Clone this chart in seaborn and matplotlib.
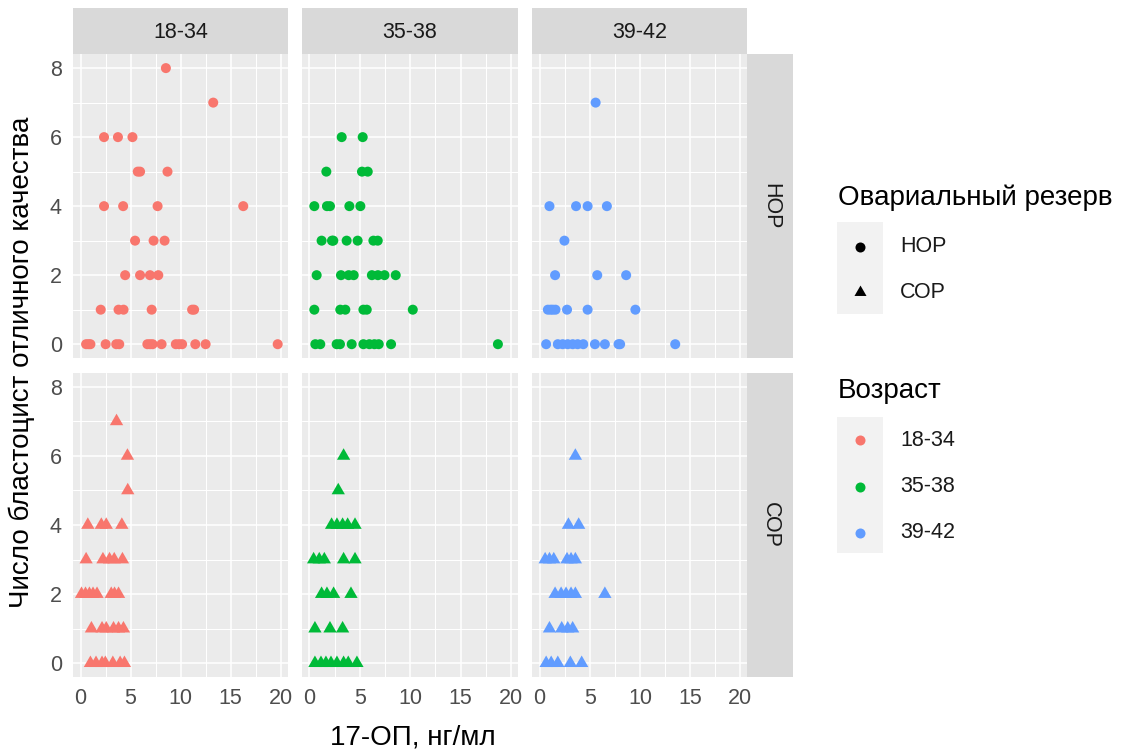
import matplotlib
matplotlib.use("Agg")
import matplotlib.pyplot as plt
from matplotlib.path import Path
from matplotlib.patches import Rectangle
import pandas as pd
import seaborn as sns

# ---------------- data ----------------
ages = ["18-34", "35-38", "39-42"]
reserves = ["НОР", "СОР"]
age_colors = ["#F8766D", "#00BA38", "#619CFF"]
x_ticks = [0, 5, 10, 15, 20]
y_ticks = [0, 2, 4, 6, 8]

# НОР, 18-34
nor_1834_x = [8.53, 13.26, 2.35, 3.74, 5.19, 5.72, 5.95, 8.69, 2.35, 4.26, 7.70, 16.26,
              5.45, 7.3, 8.4, 4.46, 5.95, 6.94, 7.77, 2.02, 3.8, 4.3, 7.11, 11.15, 11.35,
              0.56, 0.8, 0.99, 2.51, 3.57, 3.87, 6.68, 6.95, 7.2, 8.1, 9.52, 9.85, 10.15,
              11.47, 12.5, 19.7]
nor_1834_y = [8, 7, 6, 6, 6, 5, 5, 5, 4, 4, 4, 4,
              3, 3, 3, 2, 2, 2, 2, 1, 1, 1, 1, 1, 1,
              0, 0, 0, 0, 0, 0, 0, 0, 0, 0, 0, 0, 0,
              0, 0, 0]
# НОР, 35-38
nor_3538_x = [3.21, 5.29, 1.69, 5.22, 5.79, 0.5, 1.75, 2.05, 3.97, 5.06,
              1.22, 2.25, 2.38, 3.70, 4.79, 6.35, 6.78,
              0.73, 3.14, 3.9, 4.4, 6.2, 6.8, 7.45, 8.56,
              0.5, 3.07, 3.57, 5.36, 5.69, 10.25,
              0.6, 1.09, 2.71, 3.04, 4.2, 5.36, 5.95, 6.45, 6.88, 8.1, 18.68]
nor_3538_y = [6, 6, 5, 5, 5, 4, 4, 4, 4, 4,
              3, 3, 3, 3, 3, 3, 3,
              2, 2, 2, 2, 2, 2, 2, 2,
              1, 1, 1, 1, 1, 1,
              0, 0, 0, 0, 0, 0, 0, 0, 0, 0, 0]
# НОР, 39-42
nor_3942_x = [5.59, 0.99, 3.64, 4.79, 6.71, 2.48, 1.55, 5.75, 8.63,
              0.83, 1.1, 1.32, 1.59, 2.74, 4.79, 9.55,
              0.66, 1.82, 2.31, 2.81, 3.31, 3.8, 4.36, 5.52, 6.51, 7.87, 8.03, 13.52]
nor_3942_y = [7, 4, 4, 4, 4, 3, 2, 2, 2,
              1, 1, 1, 1, 1, 1, 1,
              0, 0, 0, 0, 0, 0, 0, 0, 0, 0, 0, 0]
# СОР, 18-34
sor_1834_x = [3.6, 4.69, 4.72, 0.73, 2.08, 2.57, 4.13,
              0.56, 2.24, 2.9, 3.37, 4.19,
              0.1, 0.5, 0.89, 1.25, 1.65, 3.07, 3.4, 3.8,
              1.09, 2.15, 2.57, 3.3, 3.8, 4.29,
              0.99, 1.55, 2.15, 2.48, 3.23, 3.96, 4.39]
sor_1834_y = [7, 6, 5, 4, 4, 4, 4,
              3, 3, 3, 3, 3,
              2, 2, 2, 2, 2, 2, 2, 2,
              1, 1, 1, 1, 1, 1,
              0, 0, 0, 0, 0, 0, 0]
# СОР, 35-38
sor_3538_x = [3.4, 2.87, 2.21, 2.74, 3.3, 3.8, 4.53,
              0.43, 0.99, 1.49, 3.4, 4.53,
              1.22, 1.75, 2.41, 4.13,
              0.56, 2.05, 3.3,
              0.56, 1.16, 1.65, 2.15, 2.74, 3.4, 3.86, 4.72]
sor_3538_y = [6, 5, 4, 4, 4, 4, 4,
              3, 3, 3, 3, 3,
              2, 2, 2, 2,
              1, 1, 1,
              0, 0, 0, 0, 0, 0, 0, 0]
# СОР, 39-42
sor_3942_x = [3.57, 2.88, 3.9, 0.56, 0.99, 1.42, 2.74, 3.14, 3.57,
              1.55, 2.15, 2.64, 3.14, 3.57, 6.51,
              0.99, 2.21, 2.81, 3.3,
              0.66, 1.16, 1.82, 3.07, 4.2]
sor_3942_y = [6, 4, 4, 3, 3, 3, 3, 3, 3,
              2, 2, 2, 2, 2, 2,
              1, 1, 1, 1,
              0, 0, 0, 0, 0]

panels = {
    ("НОР", "18-34"): (nor_1834_x, nor_1834_y),
    ("НОР", "35-38"): (nor_3538_x, nor_3538_y),
    ("НОР", "39-42"): (nor_3942_x, nor_3942_y),
    ("СОР", "18-34"): (sor_1834_x, sor_1834_y),
    ("СОР", "35-38"): (sor_3538_x, sor_3538_y),
    ("СОР", "39-42"): (sor_3942_x, sor_3942_y),
}
frames = []
for (res, age), (xs, ys) in panels.items():
    frames.append(pd.DataFrame({"ОП": xs, "Бласт": ys, "Резерв": res, "Возраст": age}))
df = pd.concat(frames, ignore_index=True)

# ---------------- style ----------------
sns.set_theme(style="white")
plt.rcParams["font.family"] = ["Liberation Sans", "DejaVu Sans"]

W, H = 1134, 751
fig = plt.figure(figsize=(W / 100, H / 100), dpi=100)


def fbox(x0, y0, x1, y1):
    return [x0 / W, 1 - y1 / H, (x1 - x0) / W, (y1 - y0) / H]


col_x = [(73, 287.7), (301.7, 518.3), (532, 747.3)]
row_y = [(54.3, 358), (373, 677)]
strip_top = 8
strip_right = 793.3

tri = Path([(0, 1), (0.866, -0.5), (-0.866, -0.5), (0, 1)],
           [Path.MOVETO, Path.LINETO, Path.LINETO, Path.CLOSEPOLY])
marker_map = {"НОР": "o", "СОР": tri}
size_map = {"НОР": 52, "СОР": 122}
pal = dict(zip(ages, age_colors))

TICK_FS = 15.5
TITLE_FS = 20

for r, res in enumerate(reserves):
    for c, age in enumerate(ages):
        x0, x1 = col_x[c]
        y0, y1 = row_y[r]
        ax = fig.add_axes(fbox(x0, y0, x1, y1))
        sub = df[(df["Резерв"] == res) & (df["Возраст"] == age)]
        ax.set_facecolor("#EBEBEB")
        ax.set_axisbelow(True)
        sns.scatterplot(data=sub, x="ОП", y="Бласт", hue="Возраст", style="Резерв",
                        palette=pal, markers=marker_map, s=size_map[res],
                        linewidth=0, legend=False, ax=ax)
        ax.set_xlim(-0.75, 20.7)
        ax.set_ylim(-0.4, 8.4)
        ax.set_xticks(x_ticks)
        ax.set_yticks(y_ticks)
        ax.set_xticks([2.5, 7.5, 12.5, 17.5], minor=True)
        ax.set_yticks([1, 3, 5, 7], minor=True)
        ax.grid(which="major", color="white", linewidth=1.15)
        ax.grid(which="minor", color="white", linewidth=0.75)
        for sp in ax.spines.values():
            sp.set_visible(False)
        ax.set_xlabel("")
        ax.set_ylabel("")
        ax.tick_params(which="minor", length=0)
        ax.tick_params(which="major", length=5, width=0.8, color="#333333",
                       labelcolor="#4D4D4D", labelsize=TICK_FS, pad=3)
        if r == 0:
            ax.tick_params(axis="x", which="major", length=0, labelbottom=False)
        if c != 0:
            ax.tick_params(axis="y", which="major", length=0, labelleft=False)
        # top strips
        if r == 0:
            sax = fig.add_axes(fbox(x0, strip_top, x1, y0))
            sax.set_facecolor("#D9D9D9")
            sax.set_xticks([]); sax.set_yticks([])
            for sp in sax.spines.values():
                sp.set_visible(False)
            sax.text(0.5, 0.47, age, ha="center", va="center", fontsize=TICK_FS,
                     color="#1A1A1A", transform=sax.transAxes)
        # right strips
        if c == 2:
            sax = fig.add_axes(fbox(x1, y0, strip_right, y1))
            sax.set_facecolor("#D9D9D9")
            sax.set_xticks([]); sax.set_yticks([])
            for sp in sax.spines.values():
                sp.set_visible(False)
            sax.text(0.5, 0.5, res, ha="center", va="center", fontsize=TICK_FS,
                     color="#1A1A1A", rotation=-90, transform=sax.transAxes)

# axis titles
fig.text(413 / W, 1 - 738 / H, "17-ОП, нг/мл", ha="center", va="center",
         fontsize=TITLE_FS, color="black")
fig.text(22 / W, 1 - 362 / H, "Число бластоцист отличного качества", ha="center",
         va="center", rotation=90, fontsize=TITLE_FS, color="black")

# ---------------- legend (overlay in pixel coords) ----------------
lax = fig.add_axes([0, 0, 1, 1])
lax.set_xlim(0, W)
lax.set_ylim(H, 0)
lax.axis("off")

lax.text(838, 205, "Овариальный резерв", ha="left", va="baseline",
         fontsize=TITLE_FS, color="black")
lax.add_patch(Rectangle((837, 222), 46, 92, facecolor="#F2F2F2", edgecolor="none"))
lax.scatter([860], [247], s=52, marker="o", color="black", linewidth=0)
lax.scatter([860], [292], s=100, marker=tri, color="black", linewidth=0)
lax.text(900, 247, "НОР", ha="left", va="center", fontsize=TICK_FS, color="#1A1A1A")
lax.text(900, 293, "СОР", ha="left", va="center", fontsize=TICK_FS, color="#1A1A1A")

lax.text(838, 398, "Возраст", ha="left", va="baseline", fontsize=TITLE_FS, color="black")
lax.add_patch(Rectangle((837, 417), 46, 136, facecolor="#F2F2F2", edgecolor="none"))
for i, (age, col) in enumerate(zip(ages, age_colors)):
    yy = 440 + i * 46.5
    lax.scatter([860], [yy], s=52, marker="o", color=col, linewidth=0)
    lax.text(900, yy, age, ha="left", va="center", fontsize=TICK_FS, color="#1A1A1A")

fig.savefig("out.png", dpi=100, facecolor="white")
